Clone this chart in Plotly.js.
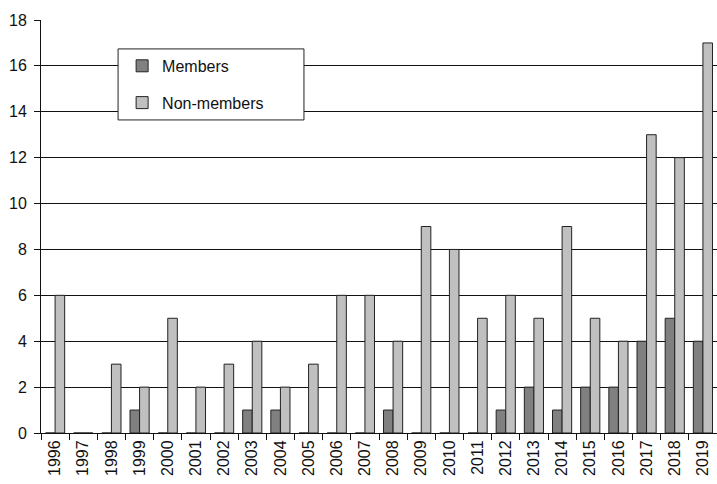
<!DOCTYPE html>
<html>
<head>
<meta charset="utf-8">
<script src="https://cdn.plot.ly/plotly-3.0.1.min.js"></script>
<style>html,body{margin:0;padding:0;background:#fff;}#chart{width:717px;height:484px;}</style>
</head>
<body>
<div id="chart"></div>
<script>
const years = ["1996","1997","1998","1999","2000","2001","2002","2003","2004","2005","2006","2007","2008","2009","2010","2011","2012","2013","2014","2015","2016","2017","2018","2019"];
const members    = [0,0,0,1,0,0,0,1,1,0,0,0,1,0,0,0,1,2,1,2,2,4,5,4];
const nonMembers = [6,0,3,2,5,2,3,4,2,3,6,6,4,9,8,5,6,5,9,5,4,13,12,17];
const yTicks = [0,2,4,6,8,10,12,14,16,18];

const font = {family: "'Liberation Sans', Arial, sans-serif", size: 16, color: "#111"};

const traces = [
  {type: "bar", name: "Members", x: years, y: members, legendgroup: "a",
   marker: {color: "#808080", line: {color: "#222", width: 1}}},
  {type: "bar", name: "Non-members", x: years, y: nonMembers, legendgroup: "b",
   marker: {color: "#c0c0c0", line: {color: "#222", width: 1}}}
];

const layout = {
  width: 717, height: 484,
  margin: {l: 41, r: 0, t: 20, b: 51, pad: 0},
  paper_bgcolor: "#fff", plot_bgcolor: "#fff",
  font: font,
  barmode: "group", bargap: 0.32, bargroupgap: 0,
  showlegend: true,
  legend: {x: 0.12, y: 0.93, xanchor: "left", yanchor: "top", bgcolor: "rgba(0,0,0,0)",
           borderwidth: 0, traceorder: "grouped", tracegroupgap: 13, font: font},
  xaxis: {type: "category", tickangle: -90, showline: true, linecolor: "#111", linewidth: 1,
          ticks: "outside", tickson: "boundaries", ticklen: 6, tickcolor: "#111",
          showgrid: false, fixedrange: true},
  yaxis: {range: [0, 18], tickvals: yTicks, showline: true, linecolor: "#111", linewidth: 1,
          ticks: "outside", ticklen: 6, tickcolor: "#111", showgrid: true, gridcolor: "#111",
          gridwidth: 1, zeroline: false, ticklabelstandoff: 4, fixedrange: true},
  shapes: [
    {type: "rect", xref: "paper", yref: "paper", x0: 0.114, x1: 0.389, y0: 0.758, y1: 0.93,
     fillcolor: "#fff", line: {color: "#222", width: 1}, layer: "above"}
  ]
};

Plotly.newPlot("chart", traces, layout, {displayModeBar: false, staticPlot: true});
</script>
</body>
</html>
